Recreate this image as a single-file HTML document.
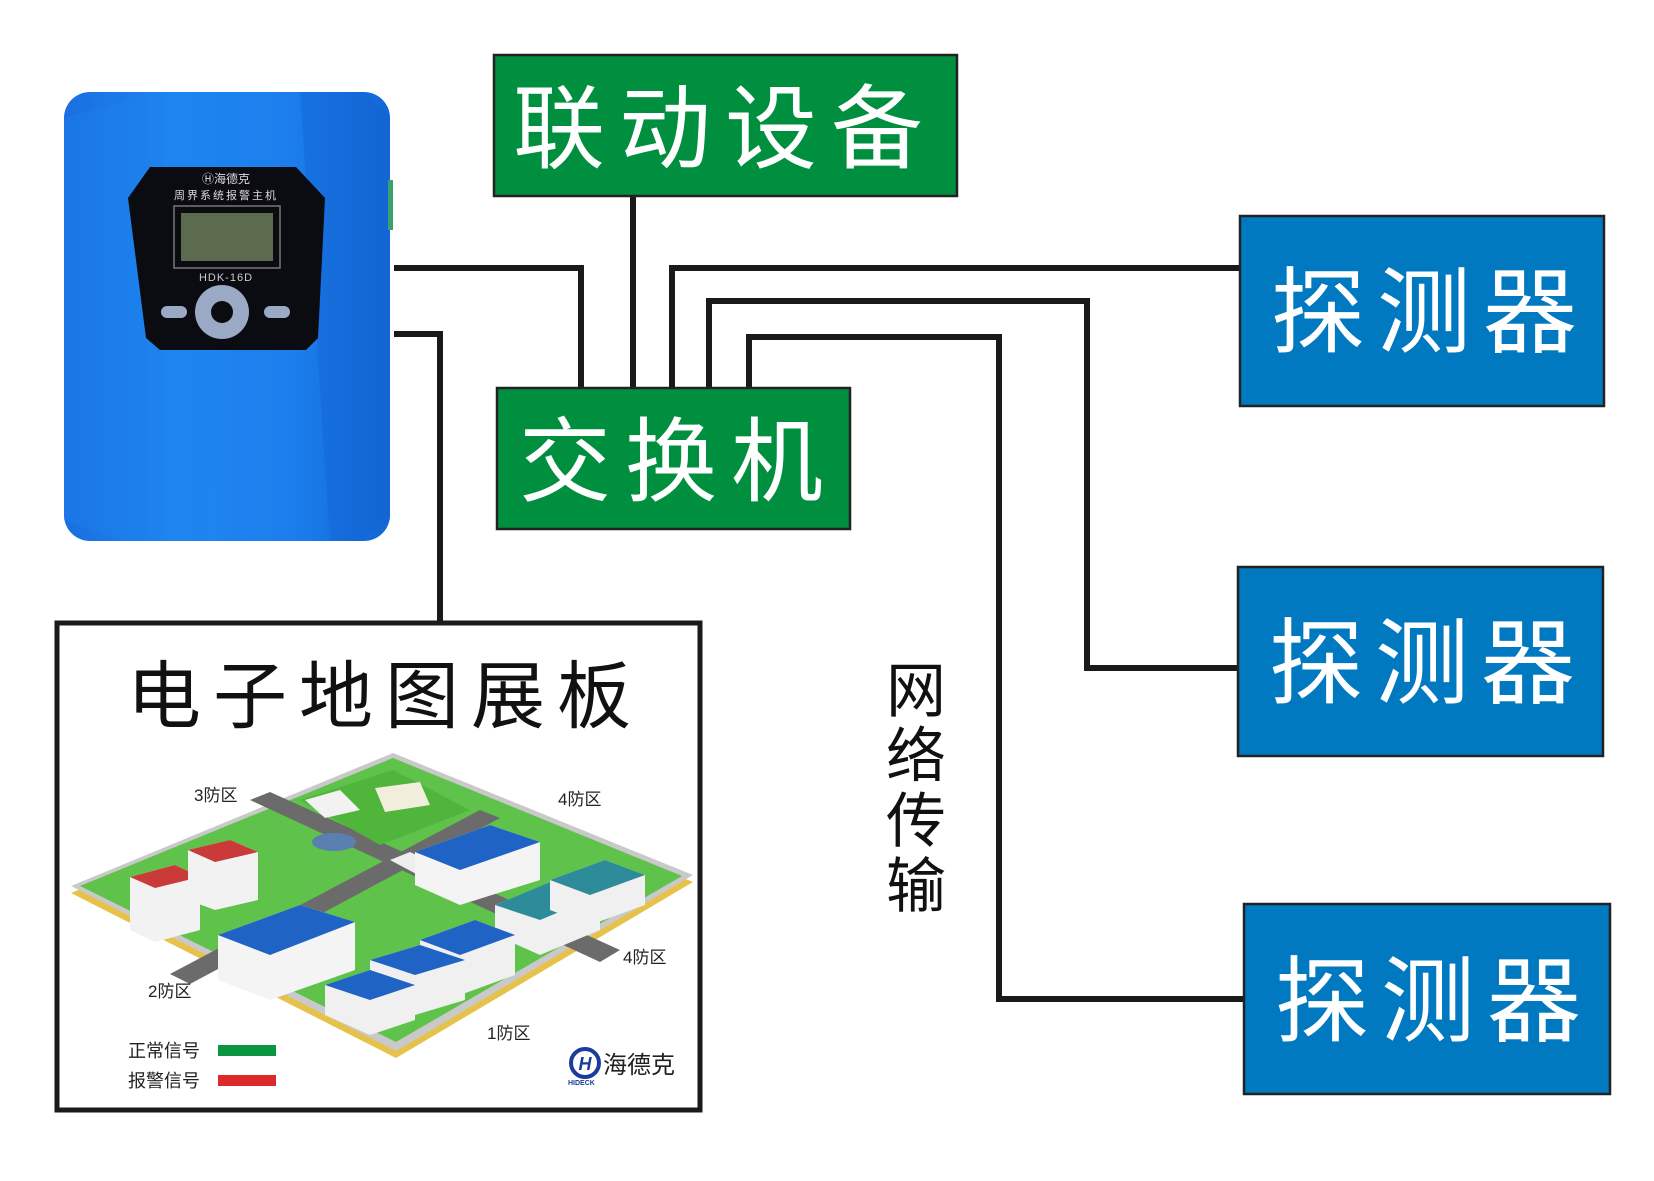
<!DOCTYPE html>
<html><head><meta charset="utf-8"><style>
html,body{margin:0;padding:0;background:#fff;}
svg{display:block;}
text{font-family:"Liberation Sans","Noto Sans CJK SC",sans-serif;}
</style></head><body>
<svg width="1654" height="1181" viewBox="0 0 1654 1181" xmlns="http://www.w3.org/2000/svg">
<defs>
<linearGradient id="dev" x1="0" y1="0" x2="1" y2="0">
<stop offset="0" stop-color="#1a6fe0"/><stop offset="0.35" stop-color="#1f86f0"/><stop offset="0.7" stop-color="#1b7eec"/><stop offset="1" stop-color="#1466d6"/>
</linearGradient>
</defs>
<rect width="1654" height="1181" fill="#fff"/>

<!-- connectors -->
<g fill="none" stroke="#1a1a1a" stroke-width="6">
<polyline points="394,268 581,268 581,390"/>
<polyline points="633,196 633,390"/>
<polyline points="672,390 672,268 1240,268"/>
<polyline points="709,390 709,301 1087,301 1087,668 1238,668"/>
<polyline points="749,390 749,337 999,337 999,999 1244,999"/>
<polyline points="394,334 440,334 440,624"/>
</g>

<!-- device -->
<rect x="64" y="92" width="326" height="449" rx="26" fill="url(#dev)"/>
<polygon points="64,118 160,92 240,92 205,541 120,541 64,520" fill="#1e84ef" opacity="0.35"/>
<polygon points="300,92 365,92 390,118 390,520 360,541 330,541" fill="#1262cf" opacity="0.35"/>
<rect x="388" y="180" width="5" height="50" fill="#3aa070"/>
<polygon points="150,167 296,167 325,198 318,338 306,350 160,350 146,338 128,198" fill="#0b0b12"/>
<text x="226" y="183" font-size="12" fill="#ddd" text-anchor="middle">Ⓗ海德克</text>
<text x="226" y="199" font-size="11" fill="#ddd" text-anchor="middle" letter-spacing="2">周界系统报警主机</text>
<rect x="174" y="206" width="106" height="62" fill="none" stroke="#777" stroke-width="1.5"/>
<rect x="181" y="213" width="92" height="48" fill="#5c6a4e"/>
<text x="226" y="281" font-size="11" fill="#ccc" text-anchor="middle" letter-spacing="1">HDK-16D</text>
<circle cx="222" cy="312" r="27" fill="#9aaac4"/>
<circle cx="222" cy="312" r="11" fill="#0b0b12"/>
<rect x="161" y="306" width="26" height="12" rx="6" fill="#9aaac4"/>
<rect x="264" y="306" width="26" height="12" rx="6" fill="#9aaac4"/>

<!-- green boxes -->
<rect x="494" y="55" width="463" height="141" fill="#008f3f" stroke="#222" stroke-width="2.5"/>
<text x="725" y="161" font-size="92" fill="#fff" text-anchor="middle" letter-spacing="14">联动设备</text>
<rect x="497" y="388" width="353" height="141" fill="#008f3f" stroke="#222" stroke-width="2.5"/>
<text x="678" y="494" font-size="92" fill="#fff" text-anchor="middle" letter-spacing="14">交换机</text>

<!-- detectors -->
<rect x="1240" y="216" width="364" height="190" fill="#0079c1" stroke="#222" stroke-width="2.5"/>
<text x="1430" y="345" font-size="94" fill="#fff" text-anchor="middle" letter-spacing="12">探测器</text>
<rect x="1238" y="567" width="365" height="189" fill="#0079c1" stroke="#222" stroke-width="2.5"/>
<text x="1428" y="696" font-size="94" fill="#fff" text-anchor="middle" letter-spacing="12">探测器</text>
<rect x="1244" y="904" width="366" height="190" fill="#0079c1" stroke="#222" stroke-width="2.5"/>
<text x="1434" y="1034" font-size="94" fill="#fff" text-anchor="middle" letter-spacing="12">探测器</text>

<!-- vertical label -->
<g font-size="60" fill="#111" text-anchor="middle">
<text x="916" y="712">网</text>
<text x="916" y="777">络</text>
<text x="916" y="842">传</text>
<text x="916" y="907">输</text>
</g>

<!-- map panel -->
<rect x="57" y="623" width="643" height="487" fill="#fff" stroke="#1a1a1a" stroke-width="5"/>
<text x="385" y="722" font-size="74" fill="#111" text-anchor="middle" letter-spacing="12">电子地图展板</text>

<!-- isometric map -->
<polygon points="71,893 393,760 693,882 396,1058" fill="#e6c24a"/>
<polygon points="71,886 393,753 693,875 396,1051" fill="#c9c9c9"/>
<polygon points="80,886 393,758 682,876 396,1042" fill="#5fc24a"/>
<!-- roads -->
<polygon points="170,974 480,810 500,818 190,984" fill="#6b6b6b"/>
<polygon points="250,800 270,792 620,950 600,962" fill="#6b6b6b"/>
<polygon points="390,860 410,852 440,866 420,876" fill="#eee"/>
<!-- plaza -->
<polygon points="300,800 393,770 470,810 380,845" fill="#4fb53b"/>
<polygon points="305,800 340,790 360,810 325,818" fill="#f2f2f2"/>
<ellipse cx="334" cy="842" rx="22" ry="9" fill="#5b7fb0"/>
<!-- buildings -->
<g>
<polygon points="375,788 420,782 430,805 385,812" fill="#f1eedc"/>
<polygon points="130,877 175,865 200,877 200,930 155,942 130,930" fill="#f2f2f2"/>
<polygon points="130,877 175,865 200,877 155,888" fill="#c93a38"/>
<polygon points="188,850 230,840 258,852 258,900 215,910 188,900" fill="#f2f2f2"/>
<polygon points="188,850 230,840 258,852 215,862" fill="#c93a38"/>
<polygon points="218,935 300,905 355,922 355,970 270,1000 218,980" fill="#f4f4f4"/>
<polygon points="218,935 300,905 355,922 270,955" fill="#1f63c4"/>
<polygon points="415,852 490,825 540,842 540,880 460,905 415,885" fill="#f4f4f4"/>
<polygon points="415,852 490,825 540,842 460,870" fill="#1f63c4"/>
<polygon points="495,905 555,880 600,895 600,930 540,955 495,935" fill="#f0f0f0"/>
<polygon points="495,905 555,880 600,895 540,920" fill="#2e8b9a"/>
<polygon points="550,880 605,860 645,875 645,905 590,925 550,910" fill="#f0f0f0"/>
<polygon points="550,880 605,860 645,875 590,895" fill="#2e8b9a"/>
<polygon points="420,940 475,920 515,935 515,975 460,995 420,975" fill="#f0f0f0"/>
<polygon points="420,940 475,920 515,935 460,955" fill="#1f63c4"/>
<polygon points="370,960 420,945 465,960 465,1000 415,1015 370,995" fill="#f0f0f0"/>
<polygon points="370,960 420,945 465,960 415,975" fill="#1f63c4"/>
<polygon points="325,985 370,970 415,985 415,1020 370,1035 325,1015" fill="#f0f0f0"/>
<polygon points="325,985 370,970 415,985 370,1000" fill="#1f63c4"/>
</g>
<g font-size="17" fill="#222">
<text x="194" y="801">3防区</text>
<text x="558" y="805">4防区</text>
<text x="623" y="963">4防区</text>
<text x="148" y="997">2防区</text>
<text x="487" y="1039">1防区</text>
<text x="128" y="1057" font-size="18">正常信号</text>
<text x="128" y="1087" font-size="18">报警信号</text>
</g>
<rect x="218" y="1045" width="58" height="11" fill="#0a9640"/>
<rect x="218" y="1075" width="58" height="11" fill="#dc2a2a"/>
<circle cx="585" cy="1063" r="14" fill="none" stroke="#1a3c9a" stroke-width="4"/>
<text x="585" y="1070" font-size="18" font-weight="bold" fill="#1a3c9a" text-anchor="middle" font-style="italic">H</text>
<text x="603" y="1073" font-size="24" fill="#222">海德克</text>
<text x="568" y="1085" font-size="7" fill="#1a3c9a" font-weight="bold">HIDECK</text>
</svg>
</body></html>
